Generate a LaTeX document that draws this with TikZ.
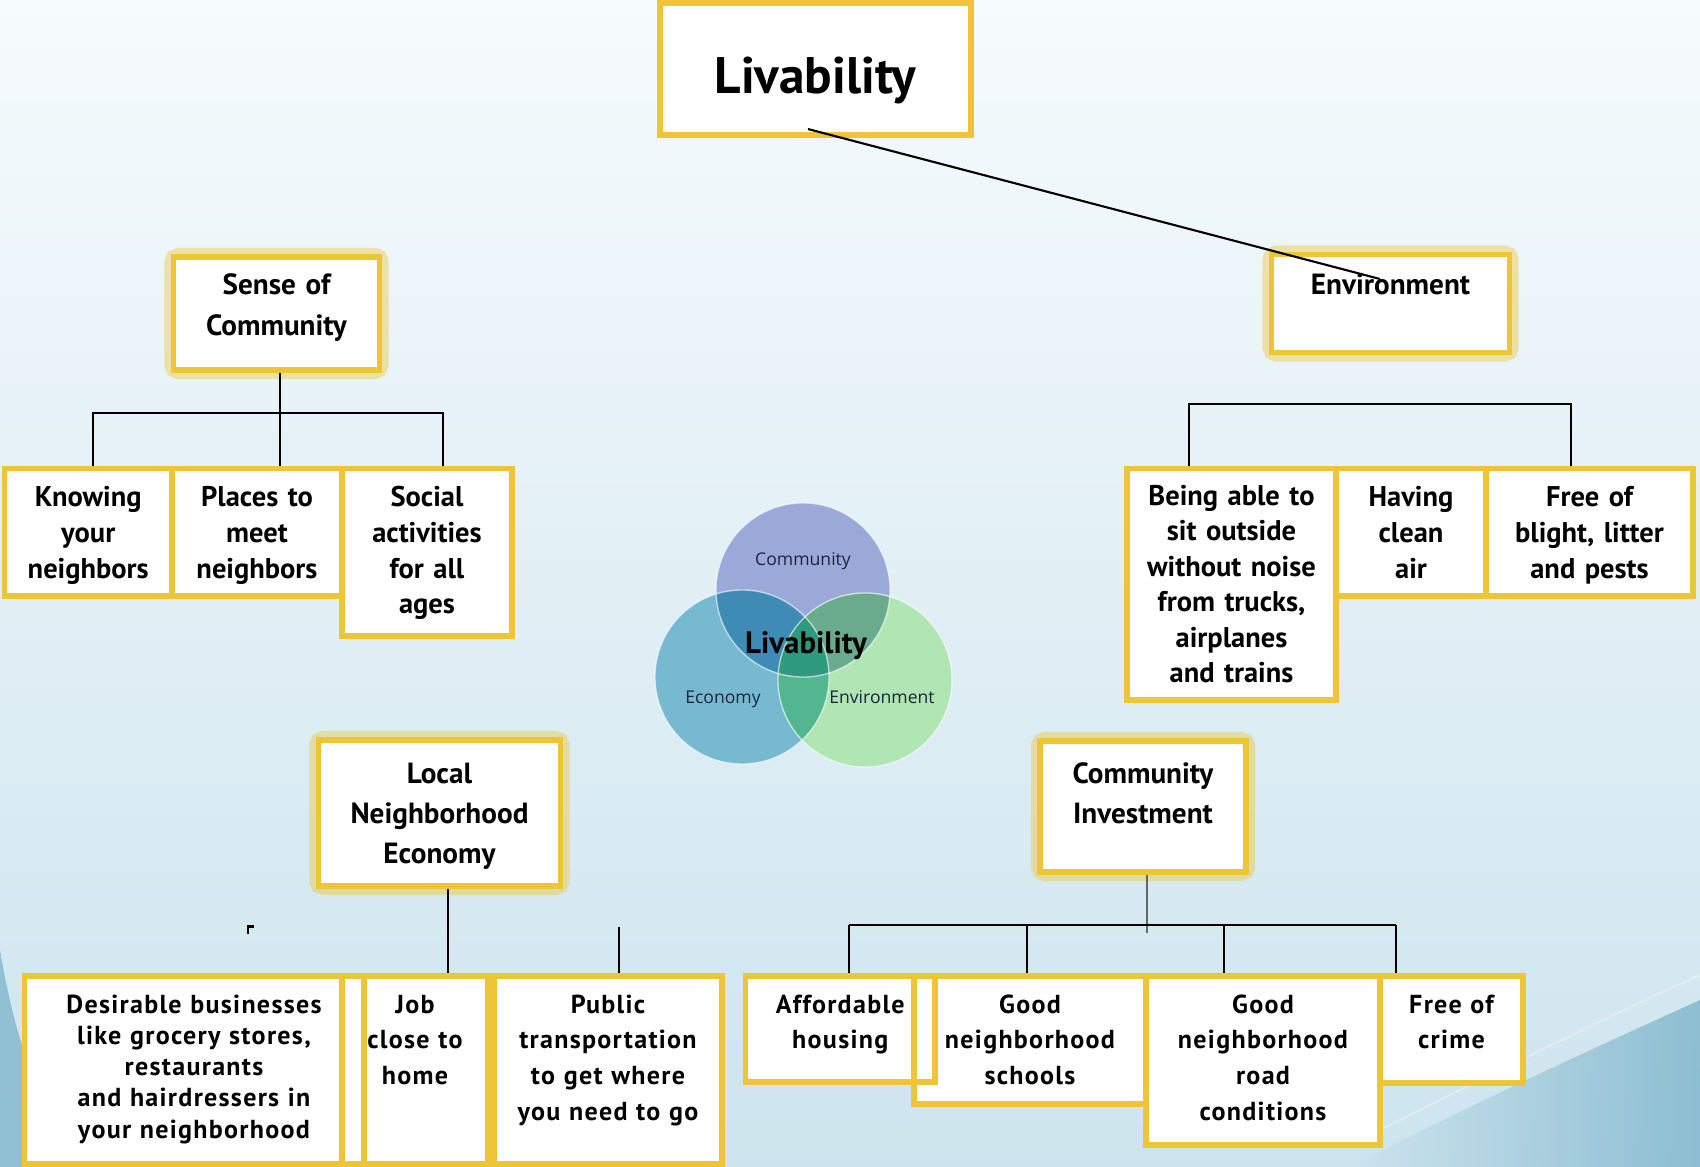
\documentclass[tikz,border=0pt]{standalone}
\usepackage{fontspec}
\setmainfont{PT Sans}
\newfontfamily\vennfont{Open Sans}
\usetikzlibrary{positioning}

\definecolor{boxyellow}{HTML}{EEC536}
\definecolor{bgtop}{HTML}{F6FBFD}
\definecolor{bgmid}{HTML}{EFF7FA}
\definecolor{bgbot}{HTML}{CDE4EE}
\definecolor{swoosh}{HTML}{7CB4CB}
\definecolor{venncom}{HTML}{9BA9D8}
\definecolor{vennecon}{HTML}{78B9D2}
\definecolor{vennenv}{HTML}{B0E6B4}
\definecolor{venncomeco}{HTML}{3E8BB5}
\definecolor{venncomenv}{HTML}{6AAB8E}
\definecolor{vennecoenv}{HTML}{52B690}
\definecolor{vennmid}{HTML}{2F9A7E}
\definecolor{venntext}{HTML}{1A2540}

\tikzset{
  ybox/.style={fill=white, inner sep=0pt, outer sep=0pt},
  yedge/.style={draw=boxyellow, line width=0.058cm},
  yglow/.style={draw=boxyellow, line width=0.18cm, rounded corners=0.05cm, opacity=0.42},
  conn/.style={draw=black, line width=0.6pt},
  thinconn/.style={draw=black!60, line width=0.35pt},
  bigtxt/.style={font=\bfseries\fontsize{14.6}{17}\selectfont, anchor=base, inner sep=0pt},
  headtxt/.style={font=\bfseries\fontsize{8.3}{11.4}\selectfont, align=center,
    text width=3cm, anchor=base, inner sep=0pt},
  itemtxt/.style={font=\bfseries\fontsize{8.1}{10.1}\selectfont, align=center,
    text width=3cm, anchor=base, inner sep=0pt},
  lowtxt/.style={font=\bfseries\fontsize{7.4}{10.2}\selectfont\addfontfeature{LetterSpace=5},
    align=center, text width=3.6cm, anchor=base, inner sep=0pt},
  venntxt/.style={font=\vennfont\fontsize{5}{6}\selectfont, text=venntext, anchor=base, inner sep=0pt},
  vennbig/.style={font=\bfseries\fontsize{8.8}{10}\selectfont, anchor=base, inner sep=0pt},
}

\begin{document}
\begin{tikzpicture}[x=0.01cm, y=-0.01cm]
\clip (0,0) rectangle (1700,1167);

% background
\shade[top color=bgtop, middle color=bgmid, bottom color=bgbot] (0,0) rectangle (1700,1167);
\fill[swoosh, opacity=0.75] (0,950) .. controls (15,1040) and (40,1110) .. (80,1167) -- (0,1167) -- cycle;
\shade[left color=bgbot, right color=swoosh, opacity=0.8]
  (1350,1167) .. controls (1480,1100) and (1590,1050) .. (1700,1000) -- (1700,1167) -- cycle;
\draw[white, opacity=0.3, line width=0.6pt] (1380,1130) .. controls (1500,1070) and (1600,1020) .. (1700,975);

% venn diagram
\coordinate (vcom) at (803,590);
\coordinate (veco) at (742,677);
\coordinate (venv) at (865,680);
\fill[venncom] (vcom) circle (0.87cm);
\fill[vennecon] (veco) circle (0.87cm);
\fill[vennenv] (venv) circle (0.87cm);
\begin{scope}
  \clip (veco) circle (0.87cm);
  \fill[vennecoenv] (venv) circle (0.87cm);
\end{scope}
\begin{scope}
  \clip (vcom) circle (0.87cm);
  \fill[venncomeco] (veco) circle (0.87cm);
  \fill[venncomenv] (venv) circle (0.87cm);
  \clip (veco) circle (0.87cm);
  \fill[vennmid] (venv) circle (0.87cm);
\end{scope}
\foreach \c in {vcom,veco,venv}
  \draw[white, opacity=0.6, line width=0.4pt] (\c) circle (0.87cm);
\node[venntxt] (vcom-t) at (803,565) {Community};
\node[venntxt] (veco-t) at (723,703) {Economy};
\node[venntxt] (venv-t) at (882,703) {Environment};
\node[vennbig] (vliv-t) at (806,653) {Livability};

% boxes
\node[ybox, minimum width=3.11cm, minimum height=1.32cm] (liv) at (815.5,69) {};
\node[ybox, minimum width=2.06cm, minimum height=1.13cm] (soc) at (276.5,313.5) {};
\node[ybox, minimum width=2.38cm, minimum height=0.98cm] (env) at (1390.5,303.5) {};
\node[ybox, minimum width=2.42cm, minimum height=1.46cm] (loc) at (439.5,813) {};
\node[ybox, minimum width=2.06cm, minimum height=1.31cm] (inv) at (1143,806.5) {};

\node[ybox, minimum width=1.675cm, minimum height=1.275cm] (know) at (88.25,532.25) {};
\node[ybox, minimum width=1.70cm, minimum height=1.275cm] (meet) at (257,532.25) {};
\node[ybox, minimum width=1.70cm, minimum height=1.675cm] (soca) at (427,552.25) {};
\node[ybox, minimum width=2.09cm, minimum height=2.315cm] (sit) at (1231.5,584.25) {};
\node[ybox, minimum width=1.50cm, minimum height=1.275cm] (air) at (1411,532.25) {};
\node[ybox, minimum width=2.07cm, minimum height=1.275cm] (blight) at (1589.5,532.25) {};

\node[ybox, minimum width=3.39cm, minimum height=1.88cm] (bus) at (194,1070) {};
\node[ybox, minimum width=1.46cm, minimum height=1.88cm] (job) at (415,1070) {};
\node[ybox, minimum width=2.28cm, minimum height=1.88cm] (pub) at (608,1070) {};
\node[ybox, minimum width=1.895cm, minimum height=1.06cm] (aff) at (840.25,1029) {};
\node[ybox, minimum width=2.32cm, minimum height=1.28cm] (sch) at (1030,1040) {};
\node[ybox, minimum width=2.34cm, minimum height=1.69cm] (road) at (1263,1060.5) {};
\node[ybox, minimum width=1.43cm, minimum height=1.07cm] (crime) at (1451.5,1029.5) {};

% glow round the group boxes
\foreach \b in {soc,env,loc,inv}
  \draw[yglow] (\b.south west) rectangle (\b.north east);
\foreach \b in {soc,env,loc,inv}
  \fill[white] (\b.south west) rectangle (\b.north east);

% connectors
\coordinate (soc-bar) at (280,413);
\draw[conn] (soc-bar |- soc.south) -- (soc-bar |- meet.north);
\draw[conn] (93,0 |- know.north) -- (93,413) -- (443,413) -- (443,0 |- soca.north);
\draw[conn] (1189,0 |- sit.north) -- (1189,404) -- (1571,404) -- (1571,0 |- blight.north);
\draw[conn] (448,0 |- loc.south) -- (448,0 |- job.north);
\draw[conn] (619,927) -- (619,0 |- pub.north);
\draw[thinconn] (1147,0 |- inv.south) -- (1147,933);
\draw[conn, line width=0.75pt] (849,925) -- (1396,925);
\foreach \x/\n in {849/aff, 1027/sch, 1224/road, 1396/crime}
  \draw[conn] (\x,925) -- (\x,0 |- \n.north);
\draw[conn, line width=0.8pt] (248,934) -- (248,926.5) -- (254,926.5);

% box fills and edges
\foreach \b in {know,meet,soca,sit,air,blight,bus,job,pub,aff,sch,road,crime}
  \fill[white] (\b.south west) rectangle (\b.north east);
\foreach \b in {liv,soc,env,loc,inv,know,meet,soca,sit,air,blight,bus,job,pub,aff,sch,road,crime}
  \draw[yedge] (\b.south west) rectangle (\b.north east);

% texts
\node[bigtxt] (liv-t) at (815.5,94) {Livability};
\node[headtxt] (soc-t) at (276.5,295) {Sense of\\Community};
\node[headtxt] (env-t) at (1390.5,295) {Environment};
\node[headtxt] (loc-t) at (439.5,783) {Local\\Neighborhood\\Economy};
\node[headtxt] (inv-t) at (1143,783) {Community\\Investment};

\node[itemtxt] (know-t) at (88.25,507) {Knowing\\your\\neighbors};
\node[itemtxt] (meet-t) at (257,507) {Places to\\meet\\neighbors};
\node[itemtxt] (soca-t) at (427,507) {Social\\activities\\for all\\ages};
\node[itemtxt] (sit-t) at (1231.5,505) {Being able to\\sit outside\\without noise\\from trucks,\\airplanes\\and trains};
\node[itemtxt] (air-t) at (1411,507) {Having\\clean\\air};
\node[itemtxt] (blight-t) at (1589.5,507) {Free of\\blight, litter\\and pests};

\node[lowtxt, font=\bfseries\fontsize{7.4}{8.9}\selectfont\addfontfeature{LetterSpace=5}] (bus-t) at (194,1013)
  {Desirable businesses\\like grocery stores,\\restaurants\\and hairdressers in\\your neighborhood};
\node[lowtxt] (job-t) at (415,1013) {Job\\close to\\home};
\node[lowtxt] (pub-t) at (608,1013) {Public\\transportation\\to get where\\you need to go};
\node[lowtxt] (aff-t) at (840.25,1013) {Affordable\\housing};
\node[lowtxt] (sch-t) at (1030,1013) {Good\\neighborhood\\schools};
\node[lowtxt] (road-t) at (1263,1013) {Good\\neighborhood\\road\\conditions};
\node[lowtxt] (crime-t) at (1451.5,1013) {Free of\\crime};

% top link
\draw[conn] ([shift={(-7.5,-6)}]liv.south) -- ([shift={(-10.5,-24.5)}]env.center);
\end{tikzpicture}
\end{document}
